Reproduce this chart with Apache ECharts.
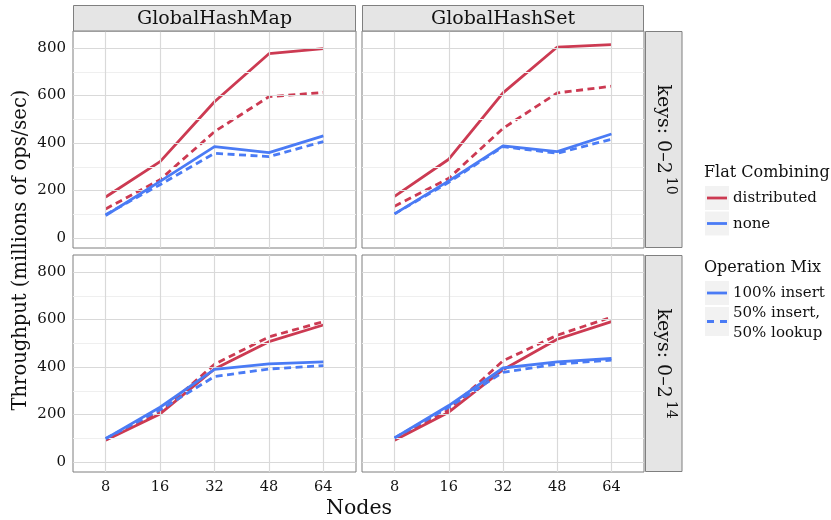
<!DOCTYPE html>
<html>
<head>
<meta charset="utf-8">
<script src="https://cdn.jsdelivr.net/npm/echarts@6/dist/echarts.min.js"></script>
<style>html,body{margin:0;padding:0;background:#fff}#c{width:831px;height:520px}</style>
</head>
<body>
<div id="c"></div>
<script>
// ---- data ----
const categories = ['8', '16', '32', '48', '64'];
const yTicks = [0, 200, 400, 600, 800];
const yMinor = [100, 300, 500, 700];
const colNames = ['GlobalHashMap', 'GlobalHashSet'];
const rowBase = 'keys: 0–2';
const rowExp = ['10', '14'];

const mapK10DistInsert = [173, 322, 574, 776, 797];
const mapK10DistMixed  = [123, 246, 448, 595, 613];
const mapK10NoneInsert = [95, 239, 385, 360, 430];
const mapK10NoneMixed  = [99, 225, 357, 343, 406];

const setK10DistInsert = [176, 332, 611, 804, 814];
const setK10DistMixed  = [134, 252, 462, 611, 639];
const setK10NoneInsert = [102, 241, 388, 364, 438];
const setK10NoneMixed  = [102, 235, 385, 357, 416];

const mapK14DistInsert = [92, 203, 392, 507, 577];
const mapK14DistMixed  = [95, 210, 412, 527, 591];
const mapK14NoneInsert = [99, 231, 390, 413, 422];
const mapK14NoneMixed  = [99, 220, 360, 392, 406];

const setK14DistInsert = [92, 210, 389, 517, 591];
const setK14DistMixed  = [95, 220, 426, 534, 610];
const setK14NoneInsert = [102, 238, 396, 422, 436];
const setK14NoneMixed  = [102, 231, 378, 413, 429];

const panels = [
  [mapK10DistMixed, mapK10DistInsert, mapK10NoneMixed, mapK10NoneInsert],
  [setK10DistMixed, setK10DistInsert, setK10NoneMixed, setK10NoneInsert],
  [mapK14DistMixed, mapK14DistInsert, mapK14NoneMixed, mapK14NoneInsert],
  [setK14DistMixed, setK14DistInsert, setK14NoneMixed, setK14NoneInsert]
];
const lineColors = ['#CC3A52', '#CC3A52', '#4A7BF5', '#4A7BF5'];
const lineDashed = [true, false, true, false];

// ---- layout ----
const FONT = '"DejaVu Serif", serif';
const colLeft = [73, 362], colWidth = [283, 282];
const rowTop = [31, 255], rowHeight = 217;
const yMin = -41.5, yMax = 871.5;
const xMin = -0.6, xMax = 4.6;

const grids = [], xAxes = [], yAxes = [], series = [];
for (let r = 0; r < 2; r++) {
  for (let c = 0; c < 2; c++) {
    const gi = r * 2 + c;
    grids.push({left: colLeft[c], top: rowTop[r], width: colWidth[c], height: rowHeight,
      show: true, borderColor: '#7f7f7f', borderWidth: 1, backgroundColor: '#ffffff'});
    xAxes.push({gridIndex: gi, type: 'value', min: xMin, max: xMax,
      axisLine: {show: false}, splitLine: {show: false},
      axisTick: {show: r === 1, length: 4, lineStyle: {color: '#333', width: 1}, customValues: [0, 1, 2, 3, 4]},
      axisLabel: {show: r === 1, customValues: [0, 1, 2, 3, 4], margin: 8,
        formatter: v => categories[Math.round(v)], fontFamily: FONT, fontSize: 14.5, color: '#111'}});
    yAxes.push({gridIndex: gi, type: 'value', min: yMin, max: yMax,
      axisLine: {show: false}, splitLine: {show: false},
      axisTick: {show: c === 0, length: 4, lineStyle: {color: '#333', width: 1}, customValues: yTicks},
      axisLabel: {show: c === 0, customValues: yTicks, margin: 7,
        fontFamily: FONT, fontSize: 15, color: '#111'}});
    // background grid lines
    const ml = [];
    yMinor.forEach(v => ml.push({yAxis: v, lineStyle: {color: '#efefef', width: 1, type: 'solid'}}));
    yTicks.forEach(v => ml.push({yAxis: v, lineStyle: {color: '#d9d9d9', width: 1.2, type: 'solid'}}));
    categories.forEach((_, i) => ml.push({xAxis: i, lineStyle: {color: '#d9d9d9', width: 1.2, type: 'solid'}}));
    series.push({type: 'line', xAxisIndex: gi, yAxisIndex: gi, data: [], z: 1, silent: true,
      markLine: {silent: true, symbol: ['none', 'none'], label: {show: false}, animation: false, data: ml}});
    panels[gi].forEach((vals, k) => {
      series.push({type: 'line', xAxisIndex: gi, yAxisIndex: gi, z: 3 + k, silent: true,
        data: vals.map((v, i) => [i, v]), symbol: 'none', showSymbol: false,
        lineStyle: {color: lineColors[k], width: 2.8, type: lineDashed[k] ? [7, 4.5] : 'solid', cap: 'butt', join: 'round'}});
    });
  }
}

const graphic = [];
// top strips
for (let c = 0; c < 2; c++) {
  graphic.push({type: 'rect', shape: {x: colLeft[c] + 0.5, y: 5.5, width: colWidth[c] - 1, height: 25.5},
    style: {fill: '#e5e5e5', stroke: '#7f7f7f', lineWidth: 1}, z: 10});
  graphic.push({type: 'text', x: colLeft[c] + colWidth[c] / 2, y: 19,
    style: {text: colNames[c], font: '19px ' + FONT, fill: '#111', align: 'center', verticalAlign: 'middle'}, z: 11});
}
// right strips
for (let r = 0; r < 2; r++) {
  graphic.push({type: 'rect', shape: {x: 645.5, y: rowTop[r] + 0.5, width: 36.5, height: rowHeight - 1},
    style: {fill: '#e5e5e5', stroke: '#7f7f7f', lineWidth: 1}, z: 10});
  graphic.push({type: 'text', x: 663, y: rowTop[r] + rowHeight / 2, rotation: -Math.PI / 2,
    style: {text: '{a|' + rowBase + '}{s|' + rowExp[r] + '}', align: 'center', verticalAlign: 'middle',
      rich: {a: {fontFamily: FONT, fontSize: 19, lineHeight: 30, fill: '#111', color: '#111'},
             s: {fontFamily: FONT, fontSize: 14, lineHeight: 14, verticalAlign: 'top', fill: '#111', color: '#111', padding: [0, 0, 0, 3]}}}, z: 11});
}
// axis titles
graphic.push({type: 'text', x: 21, y: 250, rotation: Math.PI / 2,
  style: {text: 'Throughput (millions of ops/sec)', font: '19.5px ' + FONT, fill: '#111', align: 'center', verticalAlign: 'middle'}});
graphic.push({type: 'text', x: 359, y: 509,
  style: {text: 'Nodes', font: '20.5px ' + FONT, fill: '#111', align: 'center', verticalAlign: 'middle'}});
// legends
function legendKey(y, h, color, dashed) {
  graphic.push({type: 'rect', shape: {x: 705, y: y, width: 24, height: h}, style: {fill: '#f2f2f2'}});
  graphic.push({type: 'line', shape: {x1: 707, y1: y + h / 2, x2: 727, y2: y + h / 2},
    style: {stroke: color, lineWidth: 2.8, lineDash: dashed ? [7, 6] : null}});
}
function legendText(x, y, t, size) {
  graphic.push({type: 'text', x: x, y: y,
    style: {text: t, font: size + 'px ' + FONT, fill: '#111', align: 'left', verticalAlign: 'middle', lineHeight: 19.5}});
}
legendText(704, 173, 'Flat Combining', 16);
legendKey(186, 24, '#CC3A52', false); legendText(733, 198, 'distributed', 15);
legendKey(211.5, 24, '#4A7BF5', false); legendText(733, 224, 'none', 15);
legendText(704, 268, 'Operation Mix', 16);
legendKey(281, 24, '#4A7BF5', false); legendText(733, 293, '100% insert', 15);
legendKey(307, 29, '#4A7BF5', true); legendText(733, 323, '50% insert,\n50% lookup', 15);

const chart = echarts.init(document.getElementById('c'), null, {renderer: 'canvas'});
chart.setOption({
  animation: false,
  backgroundColor: '#ffffff',
  grid: grids, xAxis: xAxes, yAxis: yAxes, series: series, graphic: graphic
});
</script>
</body>
</html>
